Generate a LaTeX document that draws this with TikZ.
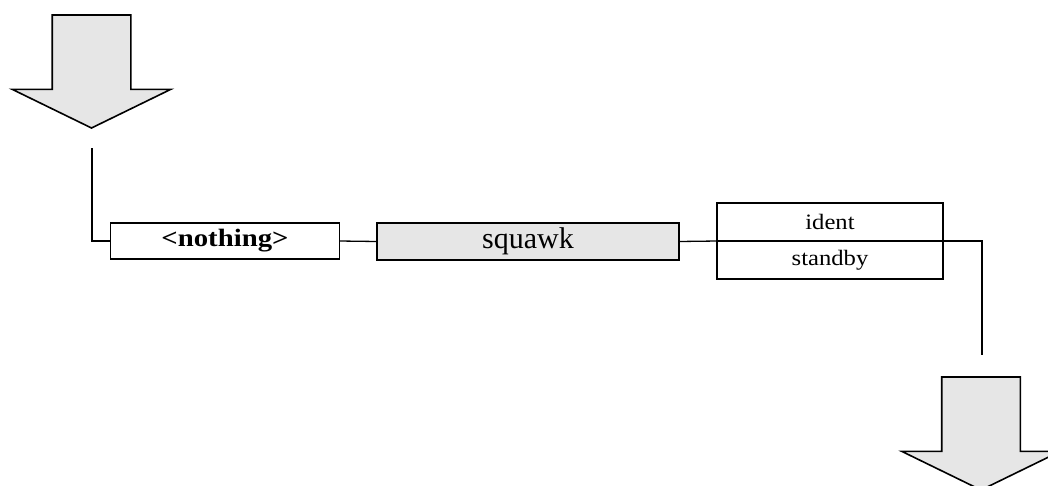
\documentclass[tikz,border=0pt]{standalone}
\usepackage{fontspec}
\usepackage{graphicx}
\setmainfont{Liberation Serif}
\usetikzlibrary{positioning, shapes.arrows}
\definecolor{boxgrey}{HTML}{E6E6E6}

% slightly widened label text
\newcommand{\widelabel}[2][1.12]{\scalebox{#1}[1]{#2}}

\begin{document}
\begin{tikzpicture}[
    x=1pt, y=-1pt,
    every node/.style={inner sep=0pt, outer sep=0pt},
    entry/.style={draw, line width=1.8pt, rectangle, minimum height=36pt},
    option/.style={entry, minimum width=226pt, minimum height=38pt,
        font=\fontsize{22}{24}\selectfont},
    flowarrow/.style={draw, line width=1.6pt, fill=boxgrey, shape=single arrow,
        rotate=-90, anchor=tip, inner xsep=0pt, inner ysep=38.5pt, minimum height=113pt,
        single arrow head extend=40pt, single arrow tip angle=128},
    link/.style={line width=1.3pt}
]
    \clip (0,0) rectangle (1048,485);

    % arrows in and out
    \node[flowarrow] (inarrow) at (91.5,128) {};
    \node[flowarrow] (outarrow) at (981,490) {};
    \coordinate (infoot) at (92,148);
    \coordinate (outhead) at (982,355);

    % the three entries
    \node[entry, minimum width=229pt, font=\fontsize{25}{27}\selectfont\bfseries]
        (nothing) at (225,241) {\widelabel[1.15]{<nothing>}};
    \node[entry, fill=boxgrey, minimum width=302pt, minimum height=37pt,
        font=\fontsize{30}{32}\selectfont]
        (squawk) at (528,241.5) {squawk};
    \node[option] (ident) at (830,222) {\widelabel{ident}};
    \node[option] (standby) at (830,260) {\widelabel{standby}};

    \draw[link] (infoot) |- (nothing.west);
    \draw[link] (nothing.east) -- (squawk.west);
    \draw[link] (squawk.east) -- (ident.south west);
    \draw[link] (ident.south east) -| (outhead);
\end{tikzpicture}
\end{document}
